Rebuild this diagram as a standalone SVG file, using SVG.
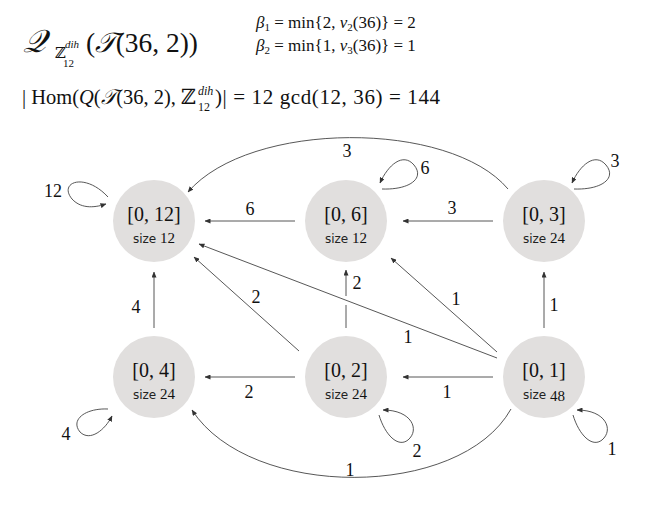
<svg xmlns="http://www.w3.org/2000/svg" width="664" height="522" viewBox="0 0 664 522">
<defs>
<marker id="arr" markerWidth="6" markerHeight="5" refX="5.5" refY="2.5" orient="auto" markerUnits="userSpaceOnUse">
<path d="M0,0 L6,2.5 L0,5 Z" fill="#333"/>
</marker>
<style>
.node{fill:#e1dfde}
.m{font-family:"Liberation Serif","DejaVu Serif",serif;fill:#111}
.nl{font-size:20px;text-anchor:middle}
.sz{font-family:"DejaVu Sans","Liberation Sans",sans-serif;font-size:12px;fill:#222}
.lbl{font-family:"Liberation Serif","DejaVu Serif",serif;font-size:18px;fill:#111;text-anchor:middle}
.e{fill:none;stroke:#444;stroke-width:0.9;marker-end:url(#arr)}
.g{fill:none;stroke:#444;stroke-width:0.9}
</style>
</defs>
<rect width="664" height="522" fill="#fff"/>

<g id="header">
<text class="m" x="23" y="52" font-size="32" font-style="italic">𝒬</text>
<text class="m" x="55" y="58" font-size="15">ℤ</text>
<text class="m" x="65" y="48" font-size="11" font-style="italic">dih</text>
<text class="m" x="63" y="67" font-size="11">12</text>
<text class="m" x="86" y="52" font-size="28" textLength="112" lengthAdjust="spacingAndGlyphs">(<tspan font-style="italic">𝒯</tspan>(36, 2))</text>
<text class="m" x="256" y="28" font-size="17"><tspan font-style="italic">β</tspan><tspan font-size="11" dy="3">1</tspan><tspan dy="-3"> = min{2, </tspan><tspan font-style="italic">ν</tspan><tspan font-size="11" dy="3">2</tspan><tspan dy="-3">(36)} = 2</tspan></text>
<text class="m" x="256" y="51" font-size="17"><tspan font-style="italic">β</tspan><tspan font-size="11" dy="3">2</tspan><tspan dy="-3"> = min{1, </tspan><tspan font-style="italic">ν</tspan><tspan font-size="11" dy="3">3</tspan><tspan dy="-3">(36)} = 1</tspan></text>
<text class="m" x="22" y="104" font-size="21" textLength="174" lengthAdjust="spacingAndGlyphs">| Hom(<tspan font-style="italic">Q</tspan>(<tspan font-style="italic">𝒯</tspan>(36, 2), ℤ</text>
<text class="m" x="198" y="95" font-size="12" font-style="italic">dih</text>
<text class="m" x="198" y="111" font-size="12">12</text>
<text class="m" x="440" y="104" font-size="21" text-anchor="end" textLength="225" lengthAdjust="spacing">)| = 12 gcd(12, 36) = 144</text>
</g>

<g id="connectors">
<path class="e" d="M295,221 L205,221"/>
<path class="e" d="M493,221 L403,221"/>
<path class="e" d="M295,377 L205,377"/>
<path class="e" d="M493,377 L403,377"/>
<path class="e" d="M154,328 L154,272"/>
<path class="e" d="M299,351 L194,257"/>
<path class="e" d="M497,358 L199,244"/>
<path class="g" d="M346,328 L346,305"/>
<path class="e" d="M346,296 L346,270"/>
<path class="e" d="M497,352 L391,258"/>
<path class="e" d="M544,328 L544,272"/>
<path class="e" d="M508,189 C450,120 250,120 188,192"/>
<path class="e" d="M511,409 C460,500 250,500 192,410"/>
<path class="e" d="M108,197 C85,172 58,182 72,199 C82,210 97,207 106,204"/>
<path class="e" d="M382,189 C410,190 425,178 414,165 C403,152 388,165 380,183"/>
<path class="e" d="M574,189 C602,190 617,178 606,165 C595,152 580,165 572,183"/>
<path class="e" d="M108,409 C85,408 70,420 80,432 C90,442 105,430 112,416"/>
<path class="e" d="M379,415 C385,435 398,448 408,440 C420,430 412,410 383,410"/>
<path class="e" d="M573,415 C579,435 592,448 602,440 C614,430 606,410 577,410"/>
</g>

<g id="edge-labels">
<text class="lbl" x="53" y="197">12</text>
<text class="lbl" x="250" y="215">6</text>
<text class="lbl" x="452" y="214">3</text>
<text class="lbl" x="249" y="398">2</text>
<text class="lbl" x="447" y="398">1</text>
<text class="lbl" x="136" y="313">4</text>
<text class="lbl" x="256" y="303">2</text>
<text class="lbl" x="408" y="343">1</text>
<text class="lbl" x="357" y="289">2</text>
<text class="lbl" x="456" y="305">1</text>
<text class="lbl" x="554" y="311">1</text>
<text class="lbl" x="347" y="157">3</text>
<text class="lbl" x="350" y="476">1</text>
<text class="lbl" x="425" y="174">6</text>
<text class="lbl" x="615" y="167">3</text>
<text class="lbl" x="66" y="440">4</text>
<text class="lbl" x="417" y="457">2</text>
<text class="lbl" x="612" y="455">1</text>
</g>

<g id="n0_12">
<circle class="node" cx="154" cy="221" r="41"/>
<text class="m nl" x="154" y="221">[0, 12]</text>
<text x="154" y="243" text-anchor="middle"><tspan class="sz">size </tspan><tspan class="m" font-size="15">12</tspan></text>
</g>
<g id="n0_6">
<circle class="node" cx="346" cy="221" r="41"/>
<text class="m nl" x="346" y="221">[0, 6]</text>
<text x="346" y="243" text-anchor="middle"><tspan class="sz">size </tspan><tspan class="m" font-size="15">12</tspan></text>
</g>
<g id="n0_3">
<circle class="node" cx="544" cy="221" r="41"/>
<text class="m nl" x="544" y="221">[0, 3]</text>
<text x="544" y="243" text-anchor="middle"><tspan class="sz">size </tspan><tspan class="m" font-size="15">24</tspan></text>
</g>
<g id="n0_4">
<circle class="node" cx="154" cy="377" r="41"/>
<text class="m nl" x="154" y="377">[0, 4]</text>
<text x="154" y="399" text-anchor="middle"><tspan class="sz">size </tspan><tspan class="m" font-size="15">24</tspan></text>
</g>
<g id="n0_2">
<circle class="node" cx="346" cy="377" r="41"/>
<text class="m nl" x="346" y="377">[0, 2]</text>
<text x="346" y="399" text-anchor="middle"><tspan class="sz">size </tspan><tspan class="m" font-size="15">24</tspan></text>
</g>
<g id="n0_1">
<circle class="node" cx="544" cy="377" r="41"/>
<text class="m nl" x="544" y="377">[0, 1]</text>
<text x="544" y="399" text-anchor="middle"><tspan class="sz">size </tspan><tspan class="m" font-size="15" dy="2">48</tspan></text>
</g>
</svg>
